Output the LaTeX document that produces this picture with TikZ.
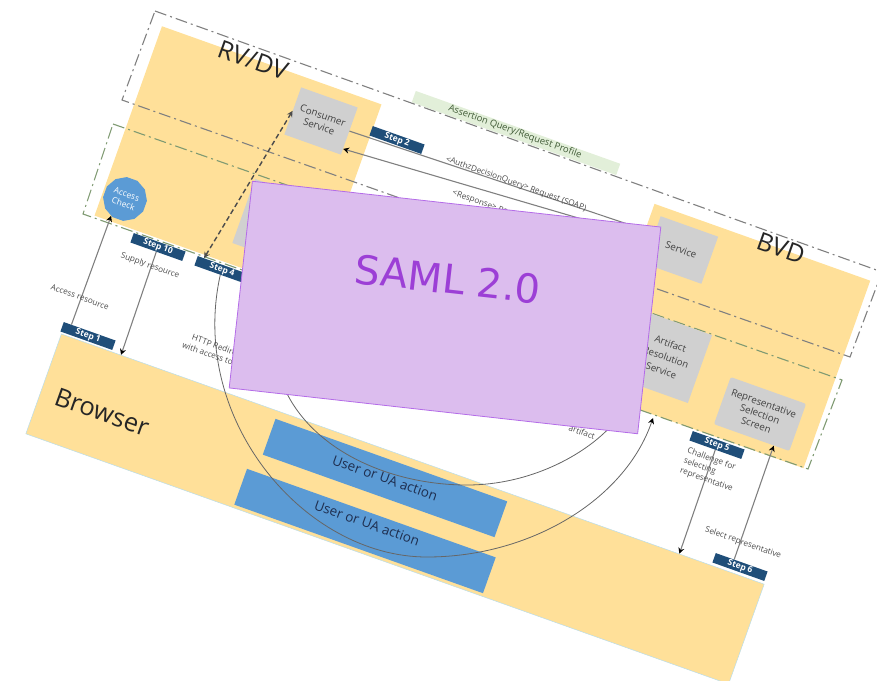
\documentclass[tikz,border=0pt]{standalone}
\usepackage{fontspec}
\setmainfont{Open Sans}
\newfontfamily\samlfont{DejaVu Sans}
\usetikzlibrary{calc, arrows.meta, shapes.geometric}
\definecolor{panelyellow}{HTML}{FFE099}
\definecolor{boxgray}{HTML}{D0D0D0}
\definecolor{actionblue}{HTML}{5B9BD5}
\definecolor{stepnavy}{HTML}{1F4E79}
\definecolor{bandgreen}{HTML}{E2EFD9}
\definecolor{bandtext}{HTML}{3F5A35}
\definecolor{profilegreen}{HTML}{7F9A72}
\definecolor{actionink}{HTML}{1F2F50}
\definecolor{overlayfill}{HTML}{DCBDEE}
\definecolor{overlayedge}{HTML}{B46CE8}
\definecolor{overlaytext}{HTML}{9C3FD6}
\tikzset{
	tilted/.style={rotate=-19.6},
	panel/.style={tilted, fill=panelyellow, minimum width=#1},
	graybox/.style={tilted, fill=boxgray, align=center, font=\fontsize{9.8}{11.5}\selectfont, text=black!75, inner sep=0pt},
	stepbox/.style={tilted, fill=stepnavy, text=white, font=\fontsize{8.5}{9}\bfseries\selectfont, minimum width=55pt, minimum height=10pt, inner sep=0pt},
	actionbox/.style={tilted, fill=actionblue, minimum width=246pt, minimum height=38pt, inner sep=0pt},
	actiontext/.style={tilted, font=\fontsize{13.5}{15}\selectfont, text=actionink},
	tiny label/.style={tilted, font=\fontsize{8.2}{10.5}\selectfont, text=black!70, inner sep=0pt},
	title/.style={tilted, font=\fontsize{#1}{#1}\selectfont, text=black!85, inner sep=0pt},
	flow/.style={draw=black!50, line width=1.1pt, -{Stealth[length=6pt,width=6pt,color=black]}},
	plain flow/.style={draw=black!50, line width=1.1pt},
	arc flow/.style={draw=black!60, line width=0.8pt},
	profile/.style={line width=1.1pt, dash pattern=on 12pt off 4pt on 2pt off 4pt},
}
\begin{document}
\begin{tikzpicture}[x=1pt,y=-1pt]
	\useasboundingbox (0,0) rectangle (877,680);

	\node[panel=233pt, minimum height=201pt, inner sep=0pt] (rvdv) at (238,160) {};
	\node[panel=229pt, minimum height=199pt, inner sep=0pt] (bvd) at (729,336) {};
	\node[tilted, fill=panelyellow, draw=black!25!cyan!30, line width=0.5pt, minimum width=746pt, minimum height=106pt, inner sep=0pt] (browser) at (395,509) {};
	\node[tilted, fill=bandgreen, minimum width=217pt, minimum height=12pt, inner sep=0pt] (band) at (516,133) {};

	\draw[profile, draw=black!50] (155,11)--(882,272)--(850,357)--(122,100)--cycle;
	\draw[profile, draw=profilegreen] (113,124)--(842,380)--(808,469)--(83,214)--cycle;

	\node[title=25] (rvdvlabel) at (253,60) {RV/DV};
	\node[title=25] (bvdlabel) at (781,248) {BVD};
	\node[title=25.5] (browserlabel) at (102,412) {Browser};
	\node[tiny label, font=\fontsize{9.4}{11}\selectfont, text=bandtext] (bandlabel) at (515,132) {Assertion Query/Request Profile};

	\node[graybox, minimum width=60pt, minimum height=50pt] (consumer) at (321,121) {Consumer\\Service};
	\node[graybox, minimum width=60pt, minimum height=68pt] (hidden) at (272,221) {};
	\node[graybox, minimum width=61pt, minimum height=50pt] (service) at (681,250) {Service};
	\node[graybox, minimum width=72pt, minimum height=72pt, font=\fontsize{9.6}{14}\selectfont] (artifact) at (666,357) {Artifact\\Resolution\\Service};
	\node[graybox, rounded corners=2pt, minimum width=80pt, minimum height=50pt] (selection) at (760,414) {Representative\\Selection\\Screen};
	\node[tilted, regular polygon, regular polygon sides=12, fill=actionblue, text=white, minimum size=44pt, inner sep=0pt, align=center, font=\fontsize{8.5}{10}\selectfont] (accesscheck) at (125,199) {Access\\Check};

	\node[actionbox] (actionone) at (385,478) {};
	\node[actionbox, minimum width=264pt] (actiontwo) at (365,531) {};
	\node[actiontext] (actiononelabel) at (385,478) {User or UA action};
	\node[actiontext] (actiontwolabel) at (367,523) {User or UA action};

	\node[stepbox] (stepone) at (88,336) {Step 1};
	\node[stepbox] (stepten) at (158,247) {Step 10};
	\node[stepbox] (stepfour) at (222,270) {Step 4};
	\node[stepbox] (steptwo) at (397,140) {Step 2};
	\node[stepbox] (stepfive) at (717,445) {Step 5};
	\node[stepbox] (stepsix) at (740,567) {Step 6};

	\draw[flow] (stepone.165) -- (accesscheck.-110);
	\draw[flow] (stepten.south) -- ($(browser.north west)!0.085!(browser.north east)$);
	\draw[flow] (stepfive.south) -- ($(browser.north west)!0.879!(browser.north east)$);
	\draw[flow] (stepsix.147) -- (selection.-47);
	\draw[plain flow] (consumer.east) -- (service.167);
	\draw[flow] (service.west) -- (consumer.-32);
	\draw[line width=1.4pt, draw=black!70, dash pattern=on 5pt off 3pt, {Stealth[length=6pt,width=6pt]}-{Stealth[length=6pt,width=6pt]}] (stepfour.166) -- (consumer.west);

	\draw[arc flow, -{Stealth[length=6pt,width=6pt,color=black]}] (stepfour.south) .. controls (188,420) and (305,557) .. (427,557) .. controls (530,557) and (625,500) .. (653,418);
	\draw[arc flow] (283,385) .. controls (310,450) and (390,485) .. (467,485) .. controls (530,485) and (585,455) .. (612,425);

	\node[tiny label] (accesslabel) at (80,297) {Access resource};
	\node[tiny label] (supplylabel) at (150,266) {Supply resource};
	\node[tiny label, align=center] (redirectlabel) at (216,351) {HTTP Redirect\\with access token};
	\node[tiny label] (querylabel) at (516,184) {<AuthzDecisionQuery> Request (SOAP)};
	\node[tiny label] (responselabel) at (506,212) {<Response> Response (SOAP)};
	\node[tiny label] (artifactlabel) at (582,432) {artifact};
	\node[tiny label, align=left] (challengelabel) at (710,470) {Challenge for\\selecting\\representative};
	\node[tiny label] (selectlabel) at (743,543) {Select representative};

	\node[rotate=-6.4, fill=overlayfill, draw=overlayedge, line width=0.8pt, minimum width=411pt, minimum height=208pt, inner sep=0pt] (overlay) at (445,307.5) {};
	\node[rotate=-6.4, text=overlaytext, font=\samlfont\fontsize{40}{40}\selectfont, inner sep=0pt] (overlaylabel) at (448,279) {SAML 2.0};
\end{tikzpicture}
\end{document}
